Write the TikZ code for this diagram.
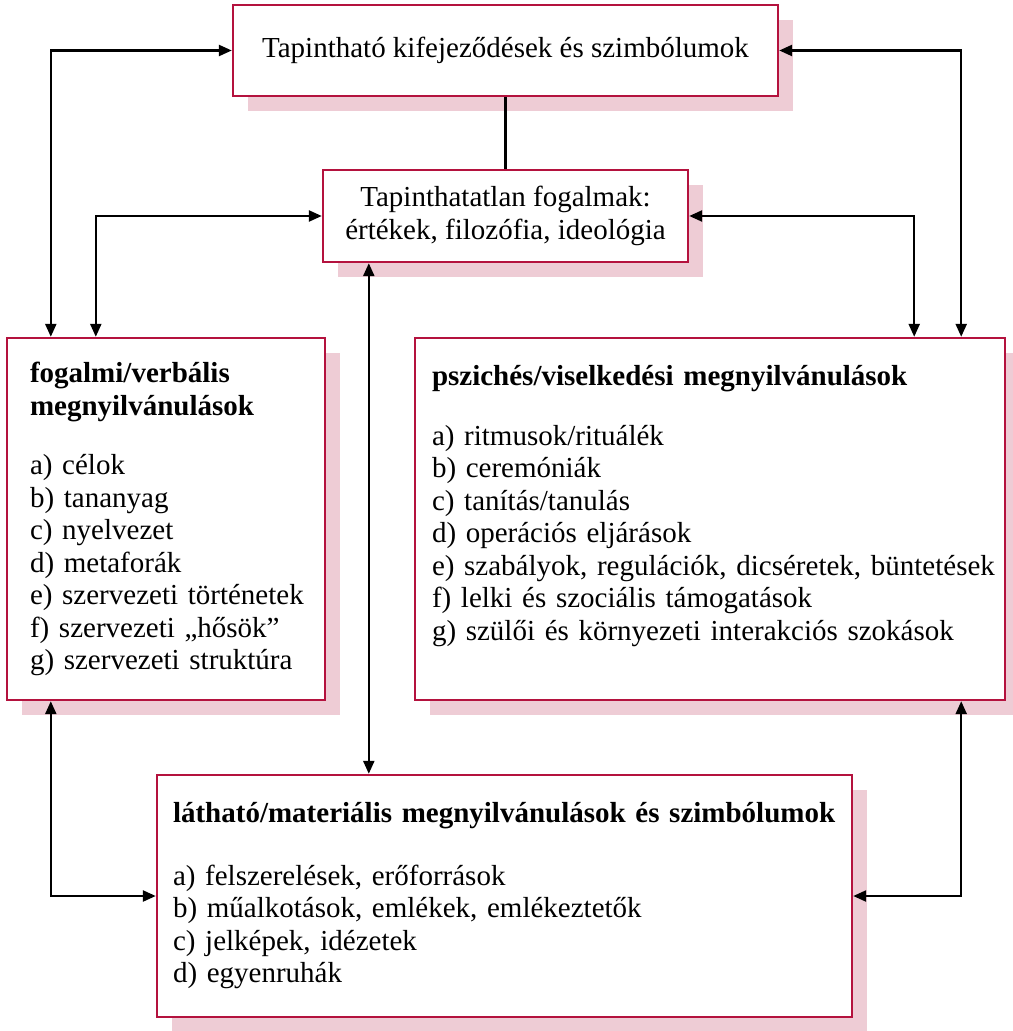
\documentclass[tikz,border=0pt]{standalone}
\usepackage{fontspec}
\setmainfont{Liberation Serif}
\usetikzlibrary{arrows.meta,shadows}
\definecolor{boxred}{RGB}{180,18,62}
\definecolor{shadowpink}{RGB}{238,204,213}
\tikzset{
  box/.style={draw=boxred, line width=1.2pt, fill=white, inner ysep=0pt,
    font=\fontsize{14.5}{16.25}\selectfont,
    drop shadow={shadow xshift=7.5pt, shadow yshift=-7.5pt, fill=shadowpink, opacity=1}},
  listbox/.style={box, inner xsep=0pt, align=left, execute at begin node={\leftskip=#1}},
  conn/.style={line width=1.2pt, {Triangle[length=6.5pt,width=5.5pt]}-{Triangle[length=6.5pt,width=5.5pt]}}
}

\begin{document}
\begin{tikzpicture}[x=0.5pt,y=-0.5pt]
		%%%%% START %%%%%
		\useasboundingbox (0,0) rectangle (1012,1031);
		
		\node[box, minimum width=272.5pt, minimum height=45.5pt, align=center] (top) at (505.5,50.5)
		  {Tapintható kifejeződések és szimbólumok};
		
		\node[box, minimum width=182.5pt, minimum height=46pt, align=center] (mid) at (505.5,216)
		  {Tapinthatatlan fogalmak:\\ értékek, filozófia, ideológia};
		
		\node[listbox=11.5pt, minimum height=181pt, text width=159pt] (left) at (166,519)
		  {\textbf{fogalmi/verbális}\\ \textbf{megnyilvánulások}\\[13.5pt]
		   a) célok\\ b) tananyag\\ c) nyelvezet\\ d) metaforák\\
		   e) szervezeti történetek\\ f) szervezeti „hősök”\\ g) szervezeti struktúra};
		
		\node[listbox=8.5pt, minimum height=181pt, text width=295pt] (right) at (710,519)
		  {\textbf{pszichés/viselkedési megnyilvánulások}\\[13.5pt]
		   a) ritmusok/rituálék\\ b) ceremóniák\\ c) tanítás/tanulás\\ d) operációs eljárások\\
		   e) szabályok, regulációk, dicséretek, büntetések\\ f) lelki és szociális támogatások\\
		   g) szülői és környezeti interakciós szokások\\ \mbox{}};
		
		\node[listbox=8pt, minimum height=121pt, text width=347.5pt] (bottom) at (504.5,896)
		  {\textbf{látható/materiális megnyilvánulások és szimbólumok}\\[15pt]
		   a) felszerelések, erőforrások\\ b) műalkotások, emlékek, emlékeztetők\\
		   c) jelképek, idézetek\\ d) egyenruhák};
		
		\draw[line width=1.2pt] (top.south) -- (mid.north);
		
		\draw[conn] (top.west) -| ([xshift=22.5pt]left.north west);
		\draw[conn] (mid.west) -| ([xshift=45pt]left.north west);
		\draw[conn] (top.east) -| ([xshift=-22.5pt]right.north east);
		\draw[conn] (mid.east) -| ([xshift=-46pt]right.north east);
		
		\draw[conn] ([xshift=23.5pt]mid.south west) -- ([xshift=23.5pt]mid.south west |- bottom.north);
		\draw[conn] ([xshift=22.5pt]left.south west) |- (bottom.west);
		\draw[conn] ([xshift=-22.5pt]right.south east) |- (bottom.east);
		%%%%% END %%%%%
\end{tikzpicture}
\end{document}
